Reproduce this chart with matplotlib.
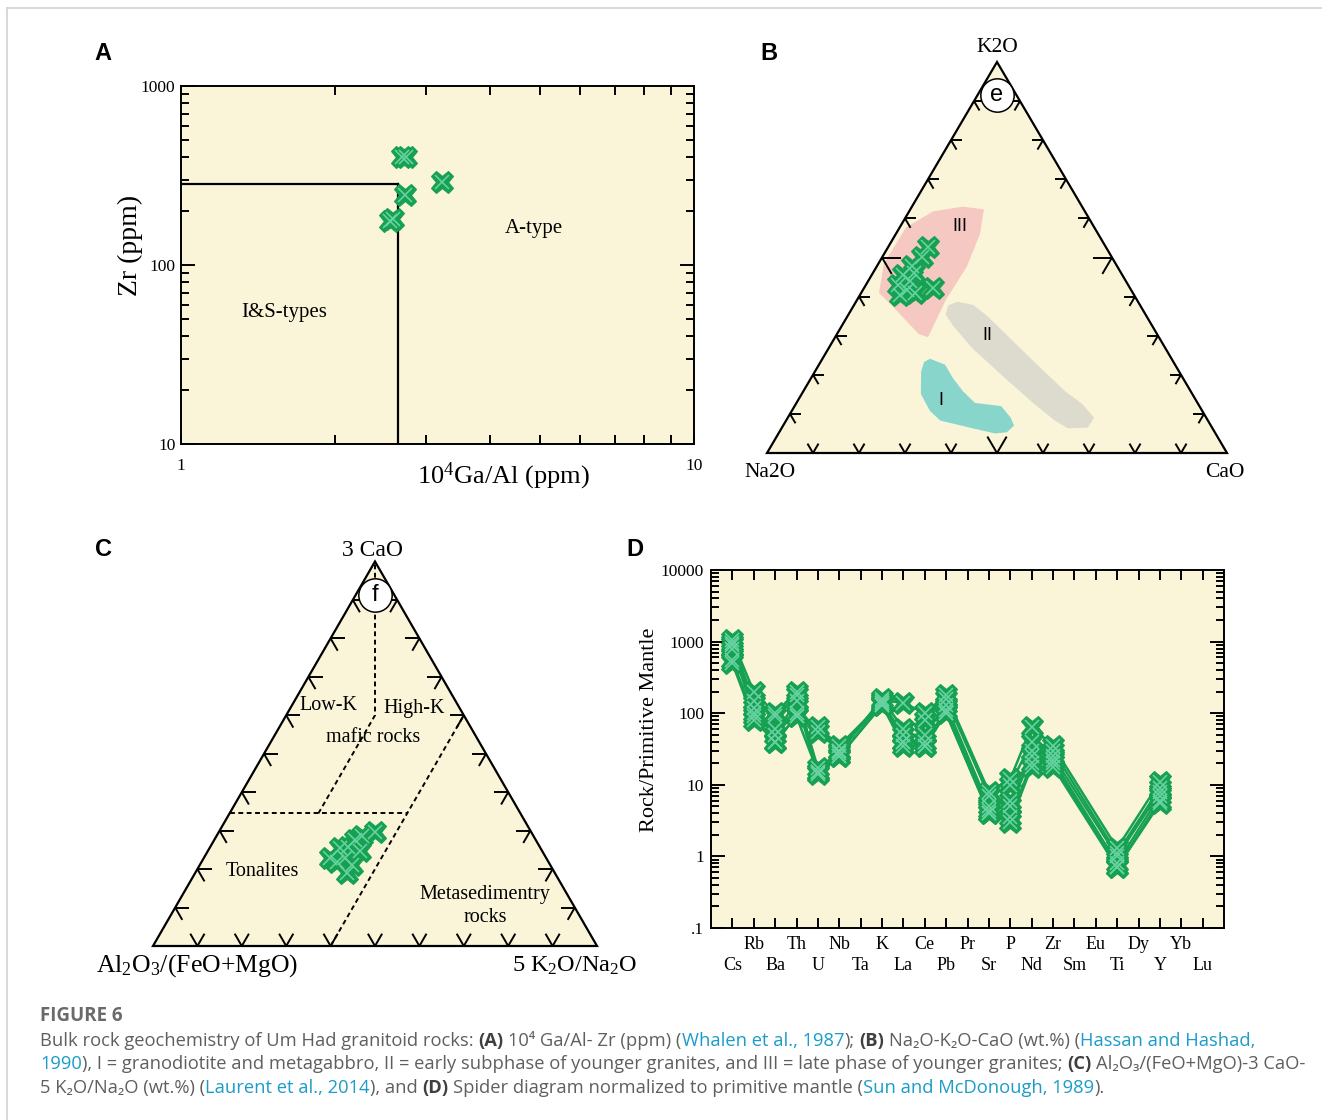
import numpy as np
import matplotlib
matplotlib.use("Agg")
import matplotlib.pyplot as plt
from matplotlib import ticker
from matplotlib.lines import Line2D
from matplotlib.patches import Polygon

W, H = 1329, 1120
CREAM = "#faf5d8"
GREEN = "#16a052"
GREEN_LT = "#66d2a0"
SERIF = "Liberation Serif"
SANS = "Liberation Sans"
SQ = np.sqrt(3) / 2

plt.rcParams["font.family"] = SERIF
plt.rcParams["mathtext.fontset"] = "custom"
plt.rcParams["mathtext.rm"] = SERIF
plt.rcParams["mathtext.it"] = SERIF + ":italic"
plt.rcParams["mathtext.bf"] = SERIF + ":bold"

# --- (A) 10^4 Ga/Al vs Zr (Whalen et al., 1987) ---
ga_al = [2.70, 2.75, 3.23, 2.73, 2.59, 2.56]
zr = [401, 401, 291, 246, 181, 176]
ga_al_limit = 2.65
zr_limit = 285

# --- (B) Na2O - K2O - CaO, rows are (Na2O, K2O, CaO) ---
b_samples = [(38.7, 52.7, 8.6), (41.2, 50.2, 8.6), (44.6, 47.9, 7.5),
             (47.7, 45.4, 6.9), (47.0, 43.9, 9.1), (50.1, 42.9, 7.0),
             (42.8, 42.2, 15.0), (48.7, 41.7, 9.6), (47.4, 40.9, 11.7),
             (50.9, 40.4, 8.7), (45.0, 46.0, 9.0)]
field_III = [(55.2, 40.9, 3.9), (50.4, 48.4, 1.2), (40.9, 57.7, 1.4),
             (33.0, 61.8, 5.2), (25.9, 63.0, 11.1), (21.7, 62.3, 16.0),
             (25.7, 56.0, 18.3), (32.7, 47.7, 19.6), (41.5, 39.2, 19.3),
             (50.2, 29.6, 20.2), (51.8, 30.4, 17.8), (54.0, 37.7, 8.3)]
field_II = [(41.8, 37.7, 20.5), (39.3, 38.7, 22.0), (36.3, 37.9, 25.8),
            (34.6, 35.1, 30.3), (32.4, 29.1, 38.5), (29.6, 21.6, 48.8),
            (27.3, 15.8, 56.9), (25.2, 12.6, 62.2), (24.4, 9.0, 66.6),
            (27.0, 6.5, 66.5), (31.4, 6.3, 62.3), (33.3, 8.3, 58.5),
            (35.7, 12.6, 51.8), (39.1, 20.1, 40.8), (41.9, 26.6, 31.5),
            (43.3, 32.6, 24.1), (43.5, 35.4, 21.2)]
field_I = [(52.5, 24.1, 23.4), (50.0, 22.6, 27.4), (50.0, 19.1, 30.9),
           (49.5, 15.8, 34.7), (48.4, 12.8, 38.8), (43.1, 12.0, 44.9),
           (42.5, 9.0, 48.5), (42.8, 7.0, 50.2), (45.2, 5.3, 49.5),
           (47.9, 5.0, 47.1), (52.1, 6.3, 41.6), (58.2, 8.3, 33.5),
           (59.2, 10.8, 30.0), (59.0, 15.1, 25.9), (56.1, 20.8, 23.1),
           (54.2, 23.3, 22.5)]
field_names = ["III", "II", "I"]
field_label_pos = [(29, 58, 13), (37, 30, 33), (55.5, 13.3, 31.2)]
field_colors = ["#f5c8c2", "#dddbcd", "#88d6cb"]

# --- (C) Al2O3/(FeO+MgO) - 3CaO - 5K2O/Na2O (Laurent et al., 2014) ---
c_samples = [(35.1, 29.7, 35.2), (38.6, 28.6, 32.8), (40.7, 27.6, 31.7),
             (45.1, 25.5, 29.4), (43.2, 25.7, 31.1), (41.0, 24.7, 34.3),
             (45.3, 22.9, 31.8), (47.6, 21.8, 30.5), (44.6, 21.1, 34.3),
             (46.8, 19.0, 34.2), (48.7, 22.9, 28.4)]
c_boundaries = [
    [(65.5, 34.5, 0.0), (25.5, 34.5, 40.0)],
    [(60.0, 0.0, 40.0), (0.0, 60.0, 40.0)],
    [(45.5, 34.5, 20.0), (20.0, 60.0, 20.0), (0.0, 100.0, 0.0)],
]

# --- (D) primitive-mantle normalised spider diagram ---
elements = ["Cs", "Rb", "Ba", "Th", "U", "Nb", "Ta", "K", "La", "Ce", "Pb",
            "Pr", "Sr", "P", "Nd", "Zr", "Sm", "Eu", "Ti", "Dy", "Y", "Yb", "Lu"]
analysed = ["Cs", "Rb", "Ba", "Th", "U", "Nb", "K", "La", "Ce", "Pb",
            "Sr", "P", "Nd", "Zr", "Ti", "Y"]
sample_1 = [1050, 200, 100, 200, 15, 30, 150, 140, 100, 180, 8.0, 12, 65, 35, 1.3, 11]
sample_2 = [950, 150, 90, 180, 17, 28, 160, 60, 80, 160, 7.0, 10, 40, 30, 1.1, 9]
sample_3 = [900, 120, 60, 100, 65, 35, 140, 50, 50, 130, 5.0, 6, 30, 25, 1.0, 8]
sample_4 = [800, 100, 50, 150, 14, 25, 130, 40, 40, 110, 4.5, 5, 25, 22, 0.8, 7]
sample_5 = [550, 90, 40, 90, 55, 30, 140, 40, 35, 100, 4.0, 3.5, 20, 20, 0.7, 6]
sample_6 = [500, 80, 40, 90, 15, 25, 130, 35, 35, 100, 4.0, 3.0, 18, 18, 0.7, 5.5]
spider_samples = [sample_1, sample_2, sample_3, sample_4, sample_5, sample_6]

fig = plt.figure(figsize=(W / 100, H / 100), dpi=100)
fig.patch.set_facecolor("white")


def px_axes(left, top, right, bottom):
    return fig.add_axes([left / W, 1 - bottom / H, (right - left) / W, (bottom - top) / H])


def px_text(x, y, s, **kw):
    kw.setdefault("ha", "center")
    kw.setdefault("va", "center")
    return fig.text(x / W, 1 - y / H, s, **kw)


def cross(ax, x, y, ms=16):
    ax.plot(x, y, ls="none", marker="X", ms=ms, mfc=GREEN, mec=GREEN, mew=0.8, zorder=5)
    ax.plot(x, y, ls="none", marker="x", ms=ms * 0.62, mec=GREEN_LT, mew=1.2, zorder=6)


def tern(pts):
    # columns: left apex, top apex, right apex
    p = np.asarray(pts, float)
    p = p / p.sum(axis=1, keepdims=True)
    return p[:, 2] + p[:, 1] / 2, p[:, 1] * SQ


def tern_frame(ax):
    ax.set_xlim(0, 1)
    ax.set_ylim(0, SQ)
    ax.axis("off")
    ax.add_patch(Polygon([[0, 0], [1, 0], [0.5, SQ]], closed=True, fc=CREAM,
                         ec="black", lw=1.6, clip_on=False, joinstyle="miter", zorder=1))


def tern_ticks(ax, length, big=None):
    for f in np.arange(1, 10) / 10:
        L = big if (big and abs(f - 0.5) < 1e-9) else length
        marks = [((f, 0), [(0.5, SQ), (-0.5, SQ)]),
                 ((f / 2, f * SQ), [(1, 0), (0.5, -SQ)]),
                 ((1 - f / 2, f * SQ), [(-1, 0), (-0.5, -SQ)])]
        for (px, py), dirs in marks:
            for dx, dy in dirs:
                ax.plot([px, px + L * dx], [py, py + L * dy], color="black",
                        lw=1.4, solid_capstyle="butt", clip_on=False, zorder=4)


def apex_badge(ax, top_frac, letter):
    ax.plot(0.5, top_frac * SQ, "o", ms=24, mfc="white", mec="black", mew=1.1,
            zorder=8, clip_on=False)
    ax.text(0.5, top_frac * SQ, letter, family=SANS, fontsize=17, ha="center",
            va="center", zorder=9)


def log_ticks(ax):
    ax.tick_params(which="both", direction="in", top=True, right=True,
                   width=1.4, labelsize=12.5)
    ax.tick_params(which="major", length=10)
    ax.tick_params(which="minor", length=6)
    for s in ax.spines.values():
        s.set_linewidth(1.4)


# ---------------- A ----------------
ax = px_axes(181, 86, 694, 444)
ax.set_facecolor(CREAM)
ax.set_xscale("log")
ax.set_yscale("log")
ax.set_xlim(1, 10)
ax.set_ylim(10, 1000)
ax.plot([1, ga_al_limit], [zr_limit, zr_limit], color="black", lw=1.6)
ax.plot([ga_al_limit, ga_al_limit], [10, zr_limit], color="black", lw=1.6)
cross(ax, ga_al, zr)
ax.text(4.88, 159, "A-type", ha="center", va="center", fontsize=15)
ax.text(1.59, 54.6, "I&S-types", ha="center", va="center", fontsize=15)
ax.xaxis.set_major_locator(ticker.FixedLocator([1, 10]))
ax.xaxis.set_minor_locator(ticker.FixedLocator(range(2, 10)))
ax.yaxis.set_major_locator(ticker.FixedLocator([10, 100, 1000]))
ax.yaxis.set_minor_locator(ticker.LogLocator(base=10, subs=range(2, 10)))
fmt = ticker.FuncFormatter(lambda v, p: f"{v:g}")
ax.xaxis.set_major_formatter(fmt)
ax.yaxis.set_major_formatter(fmt)
ax.xaxis.set_minor_formatter(ticker.NullFormatter())
ax.yaxis.set_minor_formatter(ticker.NullFormatter())
log_ticks(ax)
ax.tick_params(axis="x", which="both", length=6.5, pad=10)
ax.tick_params(axis="y", which="major", pad=4)
px_text(503, 476, r"10$^{4}$Ga/Al (ppm)", fontsize=19)
px_text(130, 245, "Zr (ppm)", fontsize=20, rotation=90)

# ---------------- B ----------------
axb = px_axes(767, 62, 1227, 453)
tern_frame(axb)
for field, col in zip([field_III, field_II, field_I], field_colors):
    axb.add_patch(Polygon(np.column_stack(tern(field)), closed=True, fc=col, ec="none", zorder=2))
for name, pos in zip(field_names, field_label_pos):
    lx, ly = tern([pos])
    axb.text(lx[0], ly[0], name, family=SANS, fontsize=13, ha="center", va="center", zorder=3)
cross(axb, *tern(b_samples))
tern_ticks(axb, 0.024, big=0.042)
apex_badge(axb, 0.915, "e")
px_text(997, 48, "K2O", fontsize=15.5)
px_text(770, 472, "Na2O", fontsize=15.5)
px_text(1225, 472, "CaO", fontsize=15.5)

# ---------------- C ----------------
axc = px_axes(153, 561.5, 597, 946)
tern_frame(axc)
for seg in c_boundaries:
    sx, sy = tern(seg)
    axc.plot(sx, sy, color="black", lw=1.4, ls=(0, (2.5, 1.8)), zorder=3)
cross(axc, *tern(c_samples))
tern_ticks(axc, 0.032)
apex_badge(axc, 0.913, "f")
px_text(373, 550, "3 CaO", fontsize=17)
px_text(197, 966, r"Al$_2$O$_3$/(FeO+MgO)", fontsize=18.5)
px_text(575, 966, r"5 K$_2$O/Na$_2$O", fontsize=17.5)
for s, x, y in [("Low-K", 328, 706), ("High-K", 414, 709), ("mafic rocks", 373, 737),
                ("Tonalites", 262, 871), ("Metasedimentry", 485, 895), ("rocks", 485, 917)]:
    px_text(x, y, s, fontsize=14.5)

# ---------------- D ----------------
axd = px_axes(711, 570, 1224, 928)
axd.set_facecolor(CREAM)
axd.set_yscale("log")
axd.set_xlim(0, len(elements) + 1)
axd.set_ylim(0.1, 10000)
xpos = [elements.index(e) + 1 for e in analysed]
for vals in spider_samples:
    axd.plot(xpos, vals, color=GREEN, lw=1.8, zorder=3)
for vals in spider_samples:
    cross(axd, xpos, vals)
axd.set_xticks(range(1, len(elements) + 1))
axd.set_xticklabels([e if i % 2 else "\n" + e for i, e in enumerate(elements)])
for lbl in axd.get_xticklabels():
    lbl.set_linespacing(1.3)
axd.yaxis.set_major_locator(ticker.FixedLocator([0.1, 1, 10, 100, 1000, 10000]))
axd.yaxis.set_minor_locator(ticker.LogLocator(base=10, subs=range(2, 10)))
axd.yaxis.set_major_formatter(ticker.FuncFormatter(lambda v, p: ".1" if v < 1 else f"{v:g}"))
axd.yaxis.set_minor_formatter(ticker.NullFormatter())
log_ticks(axd)
axd.tick_params(axis="x", which="major", length=7, labelsize=13, pad=6)
axd.tick_params(axis="y", which="major", pad=5)
px_text(650, 730, "Rock/Primitive Mantle", fontsize=16, rotation=90)

# panel letters
for letter, x, y in [("A", 103, 53), ("B", 769, 53), ("C", 103, 550), ("D", 635, 550)]:
    px_text(x, y, letter, family=SANS, weight="bold", fontsize=17)

# page frame
fig.add_artist(Line2D([7 / W, 7 / W], [0, 1 - 8 / H], color="#d2d2d2", lw=1.2))
fig.add_artist(Line2D([7 / W, 1321 / W], [1 - 8 / H, 1 - 8 / H], color="#d2d2d2", lw=1.2))

# caption
CAP_FONT = ["Open Sans", "Noto Sans", "DejaVu Sans"]
CAP_SIZE = 13.2
styles = {"n": ("#5f5f5f", "normal"), "b": ("#3f3f3f", "bold"), "l": ("#1c9cc8", "normal")}
renderer = fig.canvas.get_renderer()


def text_width(s, weight):
    t = fig.text(0, 0, s, fontsize=CAP_SIZE, family=CAP_FONT, weight=weight)
    w = t.get_window_extent(renderer).width
    t.remove()
    return w


space_w = text_width("a a", "normal") - text_width("aa", "normal")


def caption_line(y, runs, x=40):
    for s, st in runs:
        col, wt = styles[st]
        lead = len(s) - len(s.lstrip(" "))
        trail = len(s) - len(s.rstrip(" "))
        core = s.strip(" ")
        x += lead * space_w
        t = px_text(x, y, core, ha="left", color=col, weight=wt, fontsize=CAP_SIZE, family=CAP_FONT)
        x += t.get_window_extent(renderer).width + trail * space_w


px_text(40, 1016, "FIGURE 6", ha="left", color="#6a6a6a", weight="bold", fontsize=13.5, family=CAP_FONT)
caption_line(1041, [("Bulk rock geochemistry of Um Had granitoid rocks: ", "n"), ("(A)", "b"),
                    (" 10\u2074 Ga/Al- Zr (ppm) (", "n"), ("Whalen et al., 1987", "l"), ("); ", "n"),
                    ("(B)", "b"), (" Na\u2082O-K\u2082O-CaO (wt.%) (", "n"), ("Hassan and Hashad,", "l")])
caption_line(1064, [("1990", "l"),
                    ("), I = granodiotite and metagabbro, II = early subphase of younger granites, "
                     "and III = late phase of younger granites; ", "n"),
                    ("(C)", "b"), (" Al\u2082O\u2083/(FeO+MgO)-3 CaO-", "n")])
caption_line(1088, [("5 K\u2082O/Na\u2082O (wt.%) (", "n"), ("Laurent et al., 2014", "l"), ("), and ", "n"),
                    ("(D)", "b"), (" Spider diagram normalized to primitive mantle (", "n"),
                    ("Sun and McDonough, 1989", "l"), (").", "n")])

fig.savefig("out.png", dpi=100)
